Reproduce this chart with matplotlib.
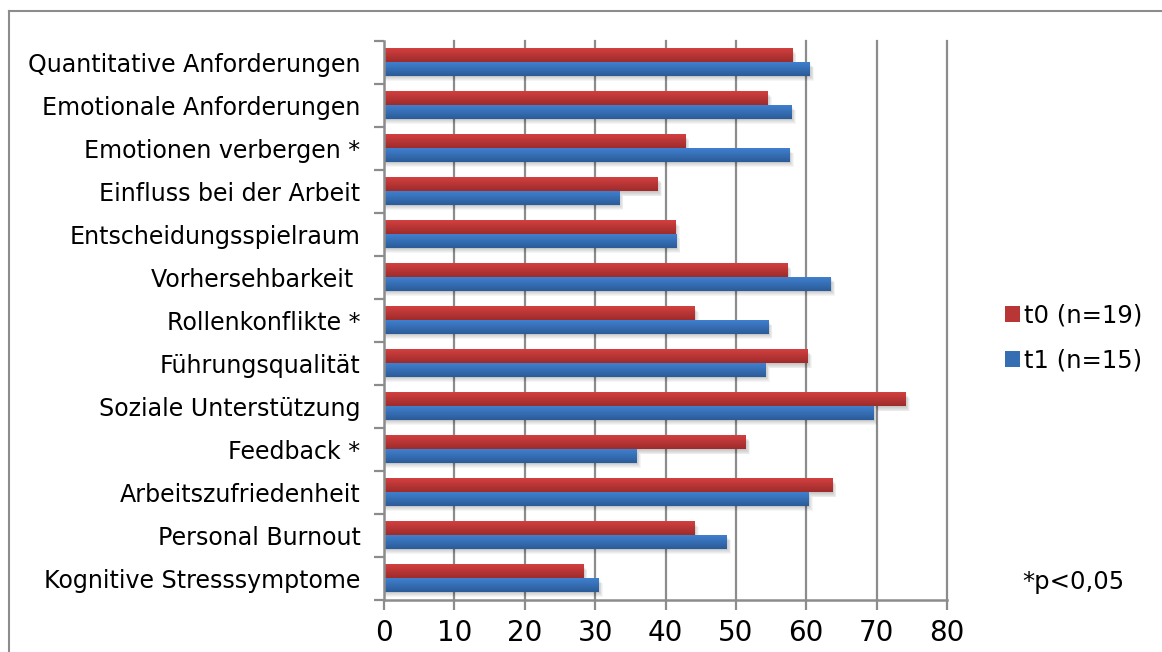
import numpy as np
import matplotlib
matplotlib.use("Agg")
import matplotlib.pyplot as plt
from matplotlib.patches import Patch
from matplotlib.lines import Line2D

# COPSOQ scale means at two measurement points
categories = [
    "Quantitative Anforderungen",
    "Emotionale Anforderungen",
    "Emotionen verbergen *",
    "Einfluss bei der Arbeit",
    "Entscheidungsspielraum",
    "Vorhersehbarkeit ",
    "Rollenkonflikte *",
    "Führungsqualität",
    "Soziale Unterstützung",
    "Feedback *",
    "Arbeitszufriedenheit",
    "Personal Burnout",
    "Kognitive Stresssymptome",
]
t0_values = [58.0, 54.5, 42.8, 38.9, 41.4, 57.3, 44.1, 60.2, 74.1, 51.4, 63.7, 44.1, 28.3]
t1_values = [60.5, 57.9, 57.6, 33.4, 41.5, 63.5, 54.6, 54.2, 69.5, 35.9, 60.3, 48.7, 30.5]
series_labels = ["t0 (n=19)", "t1 (n=15)"]
x_ticks = [0, 10, 20, 30, 40, 50, 60, 70, 80]
note_text = "*p<0,05"

W, H = 1162, 652
fig = plt.figure(figsize=(W / 100, H / 100), dpi=100)
fig.patch.set_facecolor("white")

# plot area in pixel coordinates
left_px, right_px, top_px, bottom_px = 384, 947, 41, 600
ax = fig.add_axes([left_px / W, 1 - bottom_px / H,
                   (right_px - left_px) / W, (bottom_px - top_px) / H])

n = len(categories)

FS_LABEL = 17.1
FS_TICK = 20
FS_LEGEND = 17.5
grid_col = "#8c8c8c"

# vertical gridlines
for xv in x_ticks[1:]:
    ax.axvline(xv, color=grid_col, lw=1.6, zorder=1, clip_on=False)

bar_h = 0.31
red_top, red_bot = np.array([0.83, 0.25, 0.25]), np.array([0.62, 0.17, 0.17])
blue_top, blue_bot = np.array([0.25, 0.50, 0.81]), np.array([0.17, 0.36, 0.60])

px_x = 80 / (right_px - left_px)
px_y = n / (bottom_px - top_px)


def gradient_bar(value, y_top, c_top, c_bot):
    # soft drop shadow
    for k in range(1, 7):
        ax.add_patch(plt.Rectangle((0, y_top + k * 0.8 * px_y), value + k * 0.7 * px_x, bar_h,
                                   facecolor="black", alpha=0.04, lw=0, zorder=2))
    grad = np.linspace(0, 1, 32)[:, None, None]
    img = c_top[None, None, :] * (1 - grad) + c_bot[None, None, :] * grad
    ax.imshow(img, extent=(0, value, y_top + bar_h, y_top), origin="upper",
              aspect="auto", interpolation="bilinear", zorder=3)


for i in range(n):
    yc = i + 0.5
    gradient_bar(t0_values[i], yc - bar_h, red_top, red_bot)
    gradient_bar(t1_values[i], yc, blue_top, blue_bot)

ax.set_xlim(0, 80)
ax.set_ylim(n, 0)

# axes styling
for s in ["top", "right"]:
    ax.spines[s].set_visible(False)
for s in ["left", "bottom"]:
    ax.spines[s].set_color(grid_col)
    ax.spines[s].set_linewidth(1.8)
    ax.spines[s].set_zorder(4)

ax.set_xticks(x_ticks)
ax.set_xticklabels([str(v) for v in x_ticks], fontsize=FS_TICK)
ax.tick_params(axis="x", direction="out", length=7, width=1.6, color=grid_col, pad=6.5)

ax.set_yticks(np.arange(n) + 0.5)
ax.set_yticklabels(categories, fontsize=FS_LABEL)
ax.tick_params(axis="y", which="major", length=0, pad=17)
ax.set_yticks(np.arange(n + 1), minor=True)
ax.tick_params(axis="y", which="minor", direction="out", length=7, width=1.6, color=grid_col)

# legend
handles = [Patch(facecolor=(red_top + red_bot) / 2, edgecolor="none"),
           Patch(facecolor=(blue_top + blue_bot) / 2, edgecolor="none")]
fig.legend(handles, series_labels, loc="center left",
           bbox_to_anchor=(1005 / W, 1 - 338 / H), frameon=False, fontsize=FS_LEGEND,
           handlelength=0.62, handleheight=0.62, handletextpad=0.17,
           labelspacing=0.89, borderpad=0, borderaxespad=0)

fig.text(1073 / W, 1 - 582 / H, note_text, fontsize=FS_LEGEND, ha="center", va="center")

# chart frame
fig.add_artist(Line2D([8.5 / W, 8.5 / W], [0, 1 - 11 / H], color="#8c8c8c", lw=1.5,
                      transform=fig.transFigure))
fig.add_artist(Line2D([8.5 / W, 1], [1 - 11 / H, 1 - 11 / H], color="#8c8c8c", lw=1.5,
                      transform=fig.transFigure))

fig.savefig("out.png", dpi=100, facecolor="white")
